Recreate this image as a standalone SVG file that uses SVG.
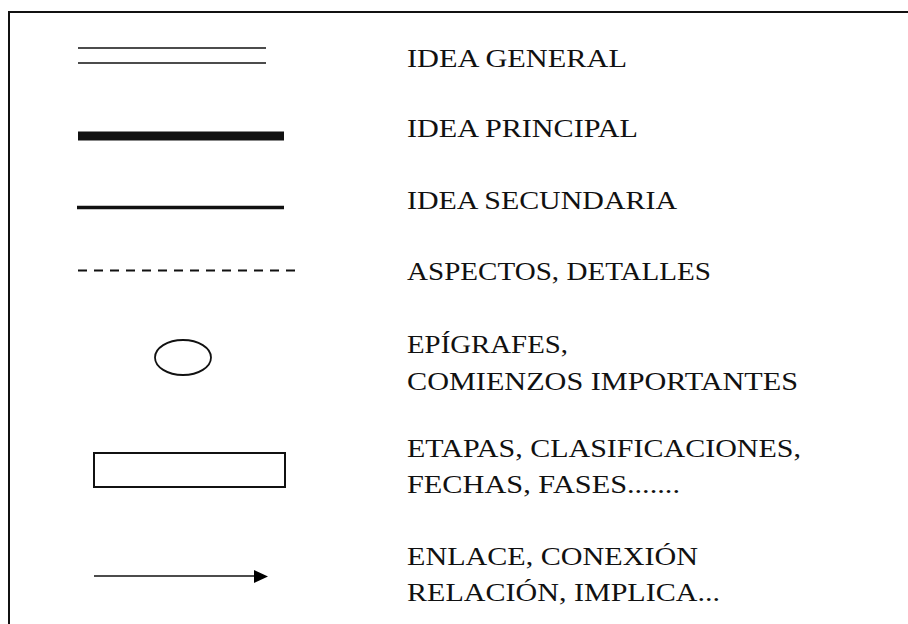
<svg xmlns="http://www.w3.org/2000/svg" width="908" height="624" viewBox="0 0 908 624">
<style>
.t{font-family:"Liberation Serif","Times New Roman",serif;font-size:26px;fill:#111;}
.ln{stroke:#111;fill:none;}
</style>
<rect width="908" height="624" fill="#fff"/>
<g id="frame"><path d="M9,624 V12 H908" class="ln" stroke="#333" stroke-width="2"/></g>
<g id="connectors">
<g id="idea-general"><line x1="78" y1="48" x2="266" y2="48" class="ln" stroke-width="1.6"/><line x1="78" y1="63" x2="266" y2="63" class="ln" stroke-width="1.6"/></g>
<line id="idea-principal" x1="78" y1="136" x2="284" y2="136" class="ln" stroke="#000" stroke-width="9"/>
<line id="idea-secundaria" x1="77" y1="207.5" x2="284" y2="207.5" class="ln" stroke="#000" stroke-width="3.5"/>
<line id="aspectos" x1="78" y1="270.5" x2="295" y2="270.5" class="ln" stroke="#333" stroke-width="2" stroke-dasharray="9 7"/>
<g id="enlace"><line x1="94" y1="576" x2="256" y2="576" class="ln" stroke-width="1.6"/><polygon points="254,570 268,576.5 254,583" fill="#000"/></g>
</g>
<g id="epigrafes-node"><ellipse cx="183" cy="357.5" rx="28" ry="17.5" class="ln" stroke="#222" stroke-width="1.8"/></g>
<g id="etapas-node"><rect x="94" y="453" width="191" height="34" class="ln" stroke="#222" stroke-width="2"/></g>
<g id="labels">
<text class="t" x="407" y="67" textLength="220" lengthAdjust="spacingAndGlyphs">IDEA GENERAL</text>
<text class="t" x="407" y="137" textLength="231" lengthAdjust="spacingAndGlyphs">IDEA PRINCIPAL</text>
<text class="t" x="407" y="209" textLength="270" lengthAdjust="spacingAndGlyphs">IDEA SECUNDARIA</text>
<text class="t" x="407" y="280" textLength="304" lengthAdjust="spacingAndGlyphs">ASPECTOS, DETALLES</text>
<text class="t" x="407" y="353" textLength="161" lengthAdjust="spacingAndGlyphs">EPÍGRAFES,</text>
<text class="t" x="407" y="390" textLength="391" lengthAdjust="spacingAndGlyphs">COMIENZOS IMPORTANTES</text>
<text class="t" x="407" y="457" textLength="394" lengthAdjust="spacingAndGlyphs">ETAPAS, CLASIFICACIONES,</text>
<text class="t" x="407" y="493" textLength="273" lengthAdjust="spacingAndGlyphs">FECHAS, FASES.......</text>
<text class="t" x="407" y="565" textLength="291" lengthAdjust="spacingAndGlyphs">ENLACE, CONEXIÓN</text>
<text class="t" x="407" y="601" textLength="313" lengthAdjust="spacingAndGlyphs">RELACIÓN, IMPLICA...</text>
</g>
</svg>
